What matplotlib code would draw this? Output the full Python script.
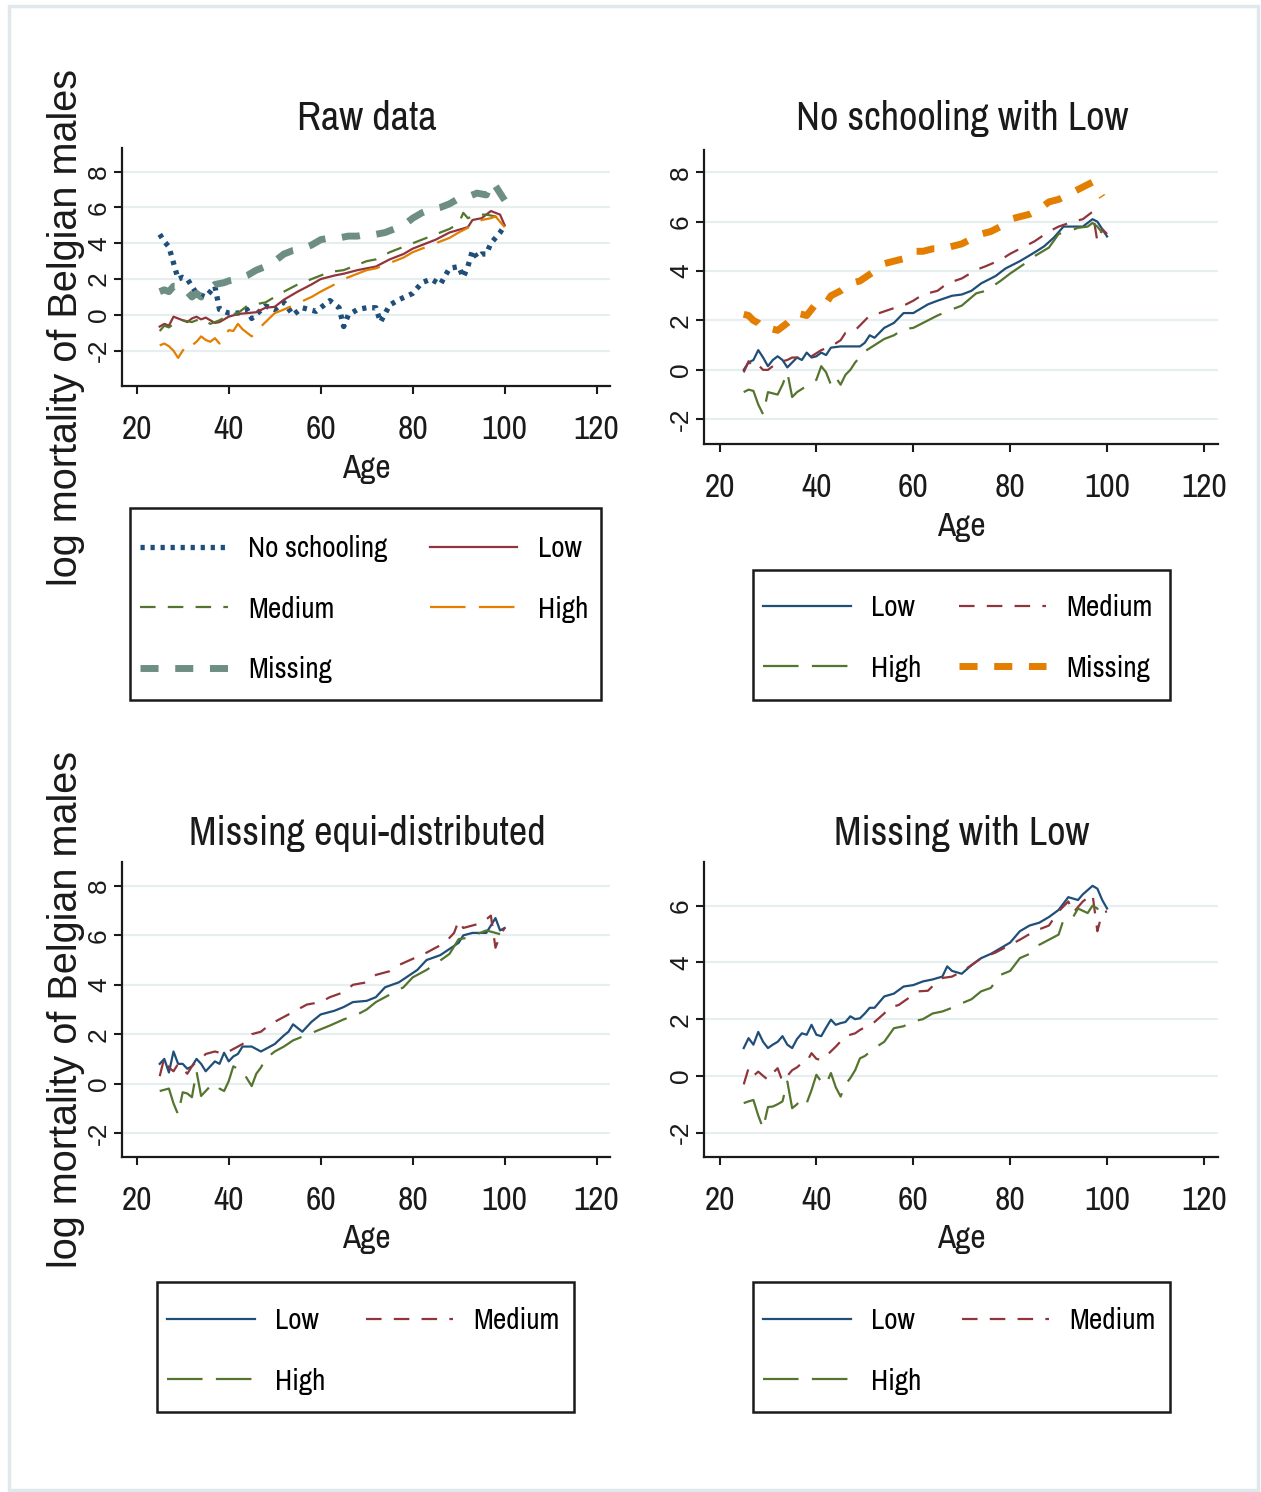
import matplotlib
matplotlib.use("Agg")
import matplotlib.pyplot as plt
from matplotlib.patches import Rectangle

plt.rcParams['axes.unicode_minus'] = False

W, H = 1261, 1492
NARROW = ['Archivo Narrow', 'Roboto Condensed', 'DejaVu Sans']
ARIAL = ['Liberation Sans', 'DejaVu Sans']

# Stata s2color palette
NAVY = '#1f4e79'
MAROON = '#90353b'
GREEN = '#55752f'
ORANGE = '#e37e00'
TEAL = '#6e8e84'

# ---- Raw data (top left) ----
raw_nosch_age = [25, 26, 27, 28, 29, 30, 31, 33, 35, 37, 38, 40, 42, 44, 45, 48, 50, 52, 54, 56,
                 59, 62, 64, 65, 66, 68, 70, 72, 73, 75, 77, 80, 82, 84, 86, 88, 90, 91, 92, 93,
                 94, 95, 96, 97, 99, 100]
raw_nosch_val = [4.5, 4.1, 3.8, 2.9, 2.0, 2.1, 2.0, 1.2, 1.0, 1.6, 0.3, 0.1, 0.1, 0.3, -0.2, 0.5, 0.3, 0.7, 0.0, 0.4,
                 0.2, 0.8, 0.4, -0.65, 0.0, 0.3, 0.4, 0.4, -0.4, 0.55, 0.85, 1.2, 1.8, 2.0, 1.7, 2.6, 2.7, 2.1, 2.7, 3.6,
                 3.2, 3.4, 3.4, 4.0, 4.6, 5.0]
raw_low_age = [25, 26, 27, 28, 29, 30, 31, 32, 33, 34, 35, 36, 37, 38, 40, 42, 44, 46, 48, 50,
               52, 55, 58, 60, 63, 65, 68, 70, 72, 75, 78, 80, 83, 85, 88, 90, 92, 93, 95, 97,
               98, 99, 100]
raw_low_val = [-0.65, -0.5, -0.6, -0.1, -0.2, -0.3, -0.4, -0.2, -0.1, -0.25, -0.15, -0.3, -0.45, -0.4, -0.1, 0.05, 0.1, 0.15, 0.4, 0.45,
               0.85, 1.3, 1.7, 2.0, 2.2, 2.3, 2.5, 2.6, 2.7, 3.1, 3.4, 3.7, 4.0, 4.2, 4.6, 4.75, 4.9, 5.3, 5.4, 5.8,
               5.7, 5.6, 5.0]
raw_med_age = [25, 26, 27, 28, 30, 32, 34, 36, 38, 40, 42, 44, 46, 48, 50, 52, 55, 58, 60, 62,
               65, 68, 70, 72, 75, 78, 80, 83, 85, 88, 90, 91, 92, 94, 96, 98, 100]
raw_med_val = [-0.9, -0.6, -0.7, -0.5, -0.3, -0.4, -0.2, -0.5, -0.3, 0.0, 0.1, 0.5, 0.6, 0.7, 1.0, 1.3, 1.7, 2.0, 2.2, 2.4,
               2.5, 2.8, 3.0, 3.1, 3.5, 3.8, 4.0, 4.3, 4.5, 4.8, 5.1, 5.7, 5.4, 5.6, 5.6, 5.5, 5.0]
raw_high_age = [25, 26, 27, 28, 29, 30, 31, 32, 33, 34, 35, 36, 37, 38, 40, 41, 42, 43, 44, 45,
                46, 47, 48, 50, 52, 55, 58, 60, 63, 65, 68, 70, 72, 75, 78, 80, 83, 85, 88, 90,
                93, 95, 97, 98, 99, 100]
raw_high_val = [-1.7, -1.6, -1.75, -2.0, -2.4, -2.0, -1.6, -1.7, -1.5, -1.2, -1.4, -1.5, -1.3, -1.6, -0.85, -0.9, -0.5, -0.8, -1.0, -1.2,
                -0.9, -0.65, -0.4, 0.1, 0.3, 0.65, 1.0, 1.3, 1.7, 2.0, 2.3, 2.5, 2.6, 2.9, 3.2, 3.5, 3.8, 4.0, 4.3, 4.6,
                5.0, 5.3, 5.4, 5.5, 5.2, 4.9]
raw_miss_age = [25, 26, 27, 28, 30, 32, 33, 34, 35, 37, 39, 40, 42, 44, 46, 48, 50, 52, 54, 56,
                58, 60, 62, 64, 66, 68, 70, 72, 74, 76, 78, 80, 82, 84, 86, 88, 90, 92, 94, 96,
                97, 98, 99, 100]
raw_miss_val = [1.3, 1.4, 1.3, 1.6, 1.6, 1.0, 1.2, 1.0, 1.3, 1.7, 1.8, 1.9, 2.0, 2.2, 2.5, 2.7, 3.0, 3.4, 3.6, 3.7,
                3.9, 4.2, 4.3, 4.3, 4.4, 4.4, 4.5, 4.5, 4.6, 4.8, 5.0, 5.4, 5.7, 5.9, 6.0, 6.2, 6.5, 6.6, 6.8, 6.7,
                7.4, 7.2, 6.8, 6.4]

# ---- No schooling with Low (top right) ----
ns_low_age = [25, 26, 27, 28, 29, 30, 31, 32, 33, 34, 35, 36, 37, 38, 39, 40, 41, 42, 43, 45,
              47, 49, 50, 51, 52, 54, 56, 58, 60, 63, 65, 68, 70, 72, 74, 77, 79, 82, 85, 87,
              89, 91, 93, 95, 97, 98, 99, 100]
ns_low_val = [0.0, 0.3, 0.4, 0.8, 0.5, 0.15, 0.4, 0.55, 0.4, 0.1, 0.3, 0.5, 0.4, 0.7, 0.5, 0.55, 0.7, 0.6, 0.9, 0.95,
              0.95, 0.95, 1.1, 1.4, 1.3, 1.7, 1.9, 2.3, 2.3, 2.65, 2.8, 3.0, 3.05, 3.2, 3.5, 3.8, 4.1, 4.4, 4.75, 5.0,
              5.35, 5.8, 5.8, 5.8, 6.1, 6.0, 5.7, 5.4]
ns_med_age = [25, 26, 27, 28, 29, 30, 32, 34, 35, 37, 39, 41, 43, 45, 46, 48, 51, 53, 56, 58,
              60, 62, 65, 67, 70, 73, 75, 78, 80, 83, 85, 88, 90, 93, 95, 97, 98, 99, 100]
ns_med_val = [-0.1, 0.35, 0.1, 0.2, 0.0, 0.0, 0.3, 0.4, 0.5, 0.5, 0.55, 0.8, 0.95, 1.2, 1.5, 1.6, 2.2, 2.3, 2.5, 2.6,
              2.8, 3.05, 3.2, 3.5, 3.7, 4.05, 4.2, 4.45, 4.7, 5.0, 5.2, 5.6, 5.8, 6.0, 6.1, 6.4, 5.2, 5.7, 5.5]
ns_high_age = [25, 26, 27, 28, 29, 30, 31, 32, 33, 34, 35, 36, 38, 40, 41, 42, 43, 44, 45, 46,
               47, 48, 50, 52, 54, 56, 58, 60, 63, 65, 68, 70, 73, 75, 78, 80, 83, 85, 88, 90,
               92, 94, 96, 97, 98, 99]
ns_high_val = [-0.9, -0.8, -0.85, -1.4, -1.8, -0.9, -0.95, -1.0, -0.6, -0.1, -1.1, -0.9, -0.65, -0.4, 0.15, -0.1, -0.6, -0.3, -0.6, -0.2,
               0.0, 0.3, 0.75, 1.0, 1.25, 1.4, 1.65, 1.7, 2.0, 2.2, 2.45, 2.6, 3.1, 3.2, 3.6, 3.9, 4.3, 4.6, 4.95, 5.5,
               5.6, 5.75, 5.8, 5.95, 5.8, 5.55]
ns_miss_age = [25, 26, 27, 28, 29, 30, 31, 32, 34, 36, 38, 40, 42, 43, 45, 47, 49, 52, 54, 56,
               58, 60, 62, 64, 66, 68, 70, 72, 74, 76, 78, 80, 82, 84, 86, 88, 90, 92, 94, 96,
               97, 99]
ns_miss_val = [2.25, 2.2, 2.0, 1.9, 1.7, 1.6, 1.65, 1.6, 1.9, 2.3, 2.2, 2.7, 2.7, 3.0, 3.2, 3.5, 3.6, 4.0, 4.3, 4.4,
               4.5, 4.8, 4.8, 4.9, 4.9, 5.0, 5.1, 5.3, 5.5, 5.6, 5.8, 6.1, 6.2, 6.3, 6.5, 6.8, 6.9, 7.1, 7.3, 7.5,
               7.6, 7.0]

# ---- Missing equi-distributed (bottom left) ----
eq_low_age = [25, 26, 27, 28, 29, 30, 31, 32, 33, 34, 35, 36, 37, 38, 39, 40, 41, 42, 43, 45,
              47, 49, 50, 52, 53, 54, 56, 58, 60, 63, 65, 67, 70, 72, 74, 77, 79, 81, 83, 86,
              88, 90, 91, 93, 95, 96, 98, 99, 100]
eq_low_val = [0.8, 1.0, 0.45, 1.3, 0.8, 0.8, 0.6, 0.7, 1.0, 0.8, 0.5, 0.7, 0.9, 0.8, 1.25, 0.9, 1.1, 1.2, 1.5, 1.5,
              1.3, 1.5, 1.6, 1.95, 2.1, 2.4, 2.1, 2.5, 2.8, 2.95, 3.1, 3.3, 3.35, 3.5, 3.9, 4.1, 4.35, 4.6, 5.0, 5.2,
              5.45, 5.7, 6.0, 6.1, 6.1, 6.1, 6.7, 6.2, 6.3]
eq_med_age = [25, 26, 27, 28, 29, 30, 31, 32, 33, 34, 35, 37, 39, 40, 42, 43, 45, 47, 49, 50,
              53, 55, 57, 60, 62, 65, 67, 70, 72, 75, 77, 80, 82, 85, 87, 89, 90, 91, 93, 95,
              97, 98, 99, 100]
eq_med_val = [0.3, 1.05, 0.65, 0.5, 0.8, 0.6, 0.4, 0.7, 0.9, 1.0, 1.2, 1.3, 1.2, 1.3, 1.5, 1.6, 2.0, 2.1, 2.4, 2.5,
              2.8, 3.0, 3.2, 3.3, 3.5, 3.7, 4.0, 4.1, 4.4, 4.55, 4.8, 5.05, 5.2, 5.5, 5.7, 6.1, 6.6, 6.3, 6.4, 6.5,
              6.8, 5.5, 6.0, 6.3]
eq_high_age = [25, 26, 27, 28, 29, 30, 31, 32, 33, 34, 35, 36, 37, 38, 39, 40, 41, 42, 43, 44,
               45, 46, 47, 48, 50, 52, 54, 56, 58, 60, 62, 65, 68, 70, 72, 75, 78, 80, 83, 85,
               88, 90, 92, 94, 96, 98, 99]
eq_high_val = [-0.3, -0.25, -0.2, -0.8, -1.25, -0.35, -0.4, -0.55, 0.5, -0.5, -0.3, -0.1, 0.0, -0.2, -0.3, 0.1, 0.7, 0.6, 0.5, 0.2,
               -0.1, 0.4, 0.65, 1.0, 1.3, 1.5, 1.75, 1.9, 2.05, 2.2, 2.35, 2.6, 2.8, 3.0, 3.3, 3.6, 3.9, 4.3, 4.6, 4.85,
               5.25, 5.85, 5.9, 6.05, 6.2, 6.1, 6.05]

# ---- Missing with Low (bottom right) ----
ml_low_age = [25, 26, 27, 28, 29, 30, 31, 32, 33, 34, 35, 36, 37, 38, 39, 40, 41, 42, 43, 44,
              45, 46, 47, 48, 49, 50, 51, 52, 54, 56, 58, 60, 62, 64, 66, 67, 68, 70, 72, 74,
              76, 78, 80, 82, 84, 86, 88, 90, 92, 94, 95, 97, 98, 99, 100]
ml_low_val = [0.98, 1.33, 1.1, 1.55, 1.2, 0.98, 1.1, 1.2, 1.4, 1.1, 0.98, 1.3, 1.5, 1.45, 1.8, 1.45, 1.4, 1.7, 1.98, 1.8,
              1.86, 1.9, 2.1, 2.0, 2.03, 2.2, 2.4, 2.4, 2.8, 2.9, 3.15, 3.2, 3.33, 3.4, 3.5, 3.86, 3.7, 3.6, 3.9, 4.15,
              4.3, 4.5, 4.7, 5.1, 5.3, 5.4, 5.6, 5.85, 6.3, 6.2, 6.4, 6.7, 6.6, 6.2, 5.9]
ml_med_age = [25, 26, 27, 28, 29, 30, 31, 32, 33, 34, 35, 36, 37, 38, 39, 40, 41, 42, 44, 46,
              48, 49, 52, 54, 55, 57, 59, 61, 63, 65, 66, 68, 70, 72, 74, 77, 80, 82, 85, 88,
              90, 92, 93, 95, 97, 98, 99, 100]
ml_med_val = [-0.3, 0.27, 0.0, 0.15, 0.0, -0.14, 0.1, 0.27, -0.2, 0.0, 0.2, 0.3, 0.45, 0.5, 0.8, 0.6, 0.56, 0.7, 1.03, 1.4,
              1.5, 1.62, 1.9, 2.2, 2.4, 2.5, 2.74, 2.98, 3.0, 3.33, 3.45, 3.5, 3.68, 3.9, 4.15, 4.35, 4.62, 4.8, 5.1, 5.3,
              5.8, 6.15, 5.75, 6.15, 6.4, 5.1, 5.75, 5.8]
ml_high_age = [25, 26, 27, 28, 29, 30, 31, 32, 33, 34, 35, 36, 37, 38, 39, 40, 41, 42, 43, 44,
               45, 46, 47, 48, 49, 50, 52, 54, 56, 58, 60, 62, 64, 66, 68, 70, 72, 74, 76, 78,
               80, 82, 84, 86, 88, 90, 91, 93, 94, 96, 97, 98, 99]
ml_high_val = [-0.96, -0.9, -0.85, -1.4, -1.85, -1.1, -1.08, -1.0, -0.9, -0.2, -1.14, -1.0, -0.8, -0.96, -0.5, 0.04, -0.2, -0.3, 0.1, -0.4,
               -0.73, -0.3, -0.08, 0.2, 0.62, 0.7, 0.98, 1.2, 1.68, 1.75, 1.92, 2.0, 2.2, 2.27, 2.4, 2.56, 2.7, 2.98, 3.1, 3.56,
               3.7, 4.15, 4.3, 4.62, 4.8, 4.98, 5.5, 5.6, 5.9, 5.74, 6.0, 5.9, 5.56]

titles = ['Raw data', 'No schooling with Low', 'Missing equi-distributed', 'Missing with Low']
ylabel = 'log mortality of Belgian males'
xticks = [20, 40, 60, 80, 100, 120]

# line looks, Stata style
SOLID = dict(lw=1.6, linestyle='-')
SHORT = dict(lw=1.6, dashes=(7, 5.5))
LONG = dict(lw=1.6, dashes=(16, 6))
THICK = dict(lw=5.0, dashes=(2.6, 2.4))
DOTS = dict(lw=3.8, dashes=(0.8, 1.1))


def frac_box(x0, y0, x1, y1):
    return [x0 / W, 1 - y1 / H, (x1 - x0) / W, (y1 - y0) / H]


fig = plt.figure(figsize=(W / 100, H / 100), dpi=100)
fig.patch.set_facecolor('white')

# faint screenshot frame
fig.add_artist(Rectangle((9 / W, 1 - 1490 / H), 1249 / W, 1484 / H, transform=fig.transFigure,
                         fill=False, ec='#dfe9ed', lw=2.5))


def style_axes(ax, ylim, yticks):
    ax.set_xlim(16.8, 122.9)
    ax.set_ylim(*ylim)
    ax.set_xticks(xticks)
    ax.set_yticks(yticks)
    for s in ['top', 'right']:
        ax.spines[s].set_visible(False)
    for s in ['left', 'bottom']:
        ax.spines[s].set_linewidth(1.6)
        ax.spines[s].set_color('#1a1a1a')
    ax.tick_params(axis='both', direction='out', length=6, width=1.5, color='#1a1a1a')
    ax.tick_params(axis='x', pad=15)
    ax.tick_params(axis='y', pad=2, labelrotation=90)
    for t in ax.get_xticklabels():
        t.set_fontfamily(NARROW)
        t.set_fontsize(24)
        t.set_color('#1a1a1a')
    for t in ax.get_yticklabels():
        t.set_fontfamily(ARIAL)
        t.set_fontsize(19)
        t.set_verticalalignment('center')
        t.set_color('#1a1a1a')
    ax.yaxis.grid(True, color='#e6eef0', lw=1.6)
    ax.set_axisbelow(True)
    ax.set_xlabel('Age', fontsize=24, family=NARROW, labelpad=6, color='#1a1a1a')
    ax.set_facecolor('white')


def add_legend(ax, handles, labels, x_handle, top, x_right, frame):
    ax.legend(handles, labels, ncol=2, loc='upper left',
              bbox_to_anchor=(x_handle / W, 1 - top / H, (x_right - x_handle) / W, 0),
              bbox_transform=fig.transFigure, mode='expand', borderaxespad=0, borderpad=0,
              frameon=False, prop=dict(family=NARROW, size=21), handlelength=3.0,
              handletextpad=0.7, labelspacing=1.15)
    fig.add_artist(Rectangle((frame[0] / W, 1 - frame[3] / H), (frame[2] - frame[0]) / W,
                             (frame[3] - frame[1]) / H, transform=fig.transFigure,
                             fill=False, ec='#1a1a1a', lw=1.8))


# panel 1
ax1 = fig.add_axes(frac_box(122, 148, 610, 386))
p_ns, = ax1.plot(raw_nosch_age, raw_nosch_val, color=NAVY, label='No schooling', **DOTS)
p_lo, = ax1.plot(raw_low_age, raw_low_val, color=MAROON, label='Low', **SOLID)
p_me, = ax1.plot(raw_med_age, raw_med_val, color=GREEN, label='Medium', **SHORT)
p_hi, = ax1.plot(raw_high_age, raw_high_val, color=ORANGE, label='High', **LONG)
p_mi, = ax1.plot(raw_miss_age, raw_miss_val, color=TEAL, label='Missing', **THICK)
style_axes(ax1, (-3.97, 9.32), [-2, 0, 2, 4, 6, 8])
add_legend(ax1, [p_ns, p_me, p_mi, p_lo, p_hi], ['No schooling', 'Medium', 'Missing', 'Low', 'High'],
           140, 535, 588, (130, 508, 601, 700))

# panel 2
ax2 = fig.add_axes(frac_box(704, 150, 1218, 444))
q_lo, = ax2.plot(ns_low_age, ns_low_val, color=NAVY, **SOLID)
q_me, = ax2.plot(ns_med_age, ns_med_val, color=MAROON, **SHORT)
q_hi, = ax2.plot(ns_high_age, ns_high_val, color=GREEN, **LONG)
q_mi, = ax2.plot(ns_miss_age, ns_miss_val, color=ORANGE, **THICK)
style_axes(ax2, (-3.0, 8.9), [-2, 0, 2, 4, 6, 8])
add_legend(ax2, [q_lo, q_hi, q_me, q_mi], ['Low', 'High', 'Medium', 'Missing'],
           763, 594, 1153, (753, 570, 1170, 700))

# panel 3
ax3 = fig.add_axes(frac_box(122, 862, 610, 1157))
r_lo, = ax3.plot(eq_low_age, eq_low_val, color=NAVY, **SOLID)
r_me, = ax3.plot(eq_med_age, eq_med_val, color=MAROON, **SHORT)
r_hi, = ax3.plot(eq_high_age, eq_high_val, color=GREEN, **LONG)
style_axes(ax3, (-2.97, 8.97), [-2, 0, 2, 4, 6, 8])
add_legend(ax3, [r_lo, r_hi, r_me], ['Low', 'High', 'Medium'],
           167, 1307, 560, (157, 1282, 574, 1412))

# panel 4
ax4 = fig.add_axes(frac_box(704, 862, 1218, 1157))
s_lo, = ax4.plot(ml_low_age, ml_low_val, color=NAVY, **SOLID)
s_me, = ax4.plot(ml_med_age, ml_med_val, color=MAROON, **SHORT)
s_hi, = ax4.plot(ml_high_age, ml_high_val, color=GREEN, **LONG)
style_axes(ax4, (-2.86, 7.54), [-2, 0, 2, 4, 6])
add_legend(ax4, [s_lo, s_hi, s_me], ['Low', 'High', 'Medium'],
           763, 1307, 1156, (753, 1282, 1170, 1412))

# titles
for (cx, base), title in zip([(367, 130), (962, 130), (367, 845), (962, 845)], titles):
    fig.text(cx / W, 1 - base / H, title, ha='center', va='baseline', fontsize=29,
             family=NARROW, color='#1a1a1a')

# y axis titles for the left column
for cy in [327, 1010]:
    fig.text(66 / W, 1 - cy / H, ylabel, rotation=90, ha='center', va='center',
             fontsize=28.5, family=ARIAL, color='#1a1a1a')

fig.savefig('out.png', dpi=100, facecolor='white')
